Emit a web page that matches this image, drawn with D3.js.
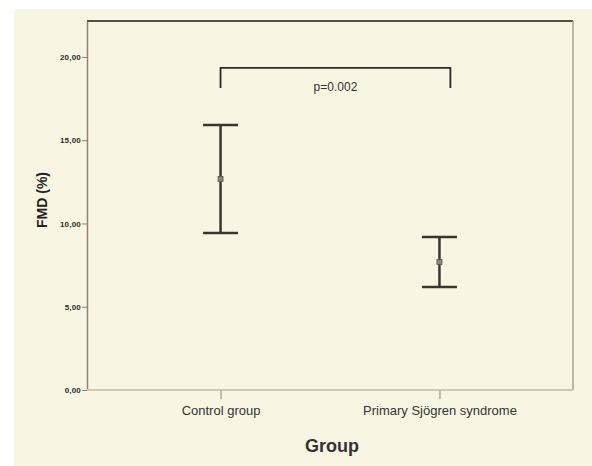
<!DOCTYPE html>
<html>
<head>
<meta charset="utf-8">
<script src="https://cdn.jsdelivr.net/npm/d3@7/dist/d3.min.js"></script>
<style>
  body { margin: 0; background: #fff; }
  .ytick text { font: bold 8px Arial, "Liberation Sans", sans-serif; fill: #2a2a2a; letter-spacing: 0.2px; }
  .xtick text { font: 13px Arial, "Liberation Sans", sans-serif; fill: #333; }
</style>
</head>
<body>
<svg id="chart" width="592" height="466"></svg>
<script>
var groups = ["Control group", "Primary Sjögren syndrome"];
var upper = [15.92, 9.19];
var means = [12.67, 7.69];
var lower = [9.43, 6.19];
var yTicks = [0, 5, 10, 15, 20];
var yTickLabels = ["0,00", "5,00", "10,00", "15,00", "20,00"];
// bracket ends as positions along the category index, height in FMD units
var bracketX = [0, 1.05];
var bracketY = [19.34, 18.14];
var pLabel = "p=0.002";

var svg = d3.select("#chart");
var plotL = 87, plotR = 573, plotT = 21, plotB = 390;

svg.append("rect").attr("x", 14).attr("y", 9)
  .attr("width", 592 - 14).attr("height", 466 - 9)
  .attr("fill", "#f8f6e2");

var x = d3.scalePoint().domain(groups).range([plotL, plotR]).padding(0.61);
var xi = d3.scaleLinear().domain([0, 1]).range([x(groups[0]), x(groups[1])]);
var y = d3.scaleLinear().domain([0, 22.16]).range([plotB, plotT]);

// frame
svg.append("line").attr("x1", plotL).attr("x2", plotR).attr("y1", plotT).attr("y2", plotT)
  .attr("stroke", "#1a1a1a").attr("stroke-width", 1.5);
svg.append("line").attr("x1", plotR).attr("x2", plotR).attr("y1", plotT).attr("y2", plotB)
  .attr("stroke", "#a8a190").attr("stroke-width", 1.5);

// y axis
var yAxis = d3.axisLeft(y).tickValues(yTicks)
  .tickFormat(function(d, i) { return yTickLabels[i]; })
  .tickSize(5).tickSizeOuter(0).tickPadding(1);
var gy = svg.append("g").attr("class", "ytick")
  .attr("transform", "translate(" + plotL + ",0)").call(yAxis);
gy.select(".domain").attr("stroke", "#8c8474").attr("stroke-width", 1.5);
gy.selectAll(".tick line").attr("stroke", "#8c8474");

// x axis
var xAxis = d3.axisBottom(x).tickSize(9).tickSizeOuter(0).tickPadding(7);
var gx = svg.append("g").attr("class", "xtick")
  .attr("transform", "translate(0," + plotB + ")").call(xAxis);
gx.select(".domain").attr("d", "M" + plotL + ",0H" + plotR)
  .attr("stroke", "#cfc8b2").attr("stroke-width", 2);
gx.selectAll(".tick line").attr("stroke", "#b0a994").attr("stroke-width", 1.5);

// axis titles
svg.append("text").attr("x", (plotL + plotR) / 2 + 2).attr("y", 452)
  .attr("text-anchor", "middle")
  .style("font", "bold 18px Arial, 'Liberation Sans', sans-serif")
  .attr("fill", "#333").text("Group");
svg.append("text")
  .attr("transform", "translate(47,200) rotate(-90)")
  .attr("text-anchor", "middle")
  .style("font", "bold 14px Arial, 'Liberation Sans', sans-serif")
  .attr("fill", "#222").text("FMD (%)");

// error bars
var bars = svg.append("g").selectAll("g").data(groups).enter().append("g");
bars.append("line")
  .attr("x1", function(d) { return x(d); }).attr("x2", function(d) { return x(d); })
  .attr("y1", function(d, i) { return y(upper[i]); })
  .attr("y2", function(d, i) { return y(lower[i]); })
  .attr("stroke", "#3a3630").attr("stroke-width", 2.5);
[upper, lower].forEach(function(arr) {
  bars.append("line")
    .attr("x1", function(d) { return x(d) - 17.5; }).attr("x2", function(d) { return x(d) + 17.5; })
    .attr("y1", function(d, i) { return y(arr[i]); })
    .attr("y2", function(d, i) { return y(arr[i]); })
    .attr("stroke", "#3a3630").attr("stroke-width", 2.5);
});
bars.append("rect")
  .attr("x", function(d) { return x(d) - 2.5; })
  .attr("y", function(d, i) { return y(means[i]) - 2.5; })
  .attr("width", 5).attr("height", 5)
  .attr("fill", "#8a8678").attr("stroke", "#5a5648").attr("stroke-width", 0.8);

// significance bracket
svg.append("path")
  .attr("d", "M" + xi(bracketX[0]) + "," + y(bracketY[1]) +
             "V" + y(bracketY[0]) + "H" + xi(bracketX[1]) + "V" + y(bracketY[1]))
  .attr("fill", "none").attr("stroke", "#2a2a2a").attr("stroke-width", 1.8);
svg.append("text")
  .attr("x", (xi(bracketX[0]) + xi(bracketX[1])) / 2)
  .attr("y", y(bracketY[1]) + 3)
  .attr("text-anchor", "middle")
  .style("font", "12px Arial, 'Liberation Sans', sans-serif")
  .attr("fill", "#333").text(pLabel);
</script>
</body>
</html>
